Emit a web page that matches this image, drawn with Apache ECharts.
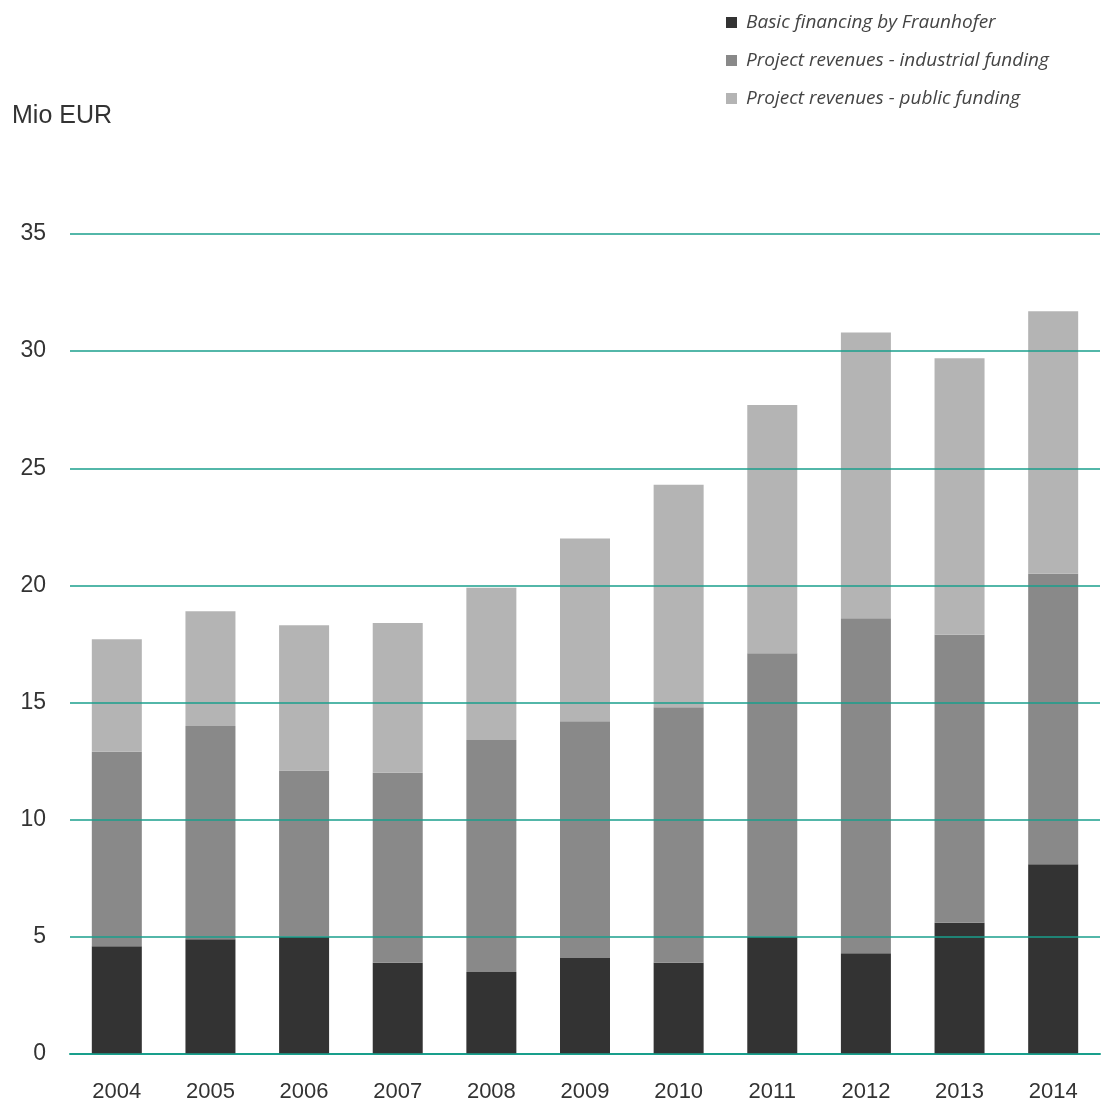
<!DOCTYPE html>
<html>
<head>
<meta charset="utf-8">
<script src="https://cdn.jsdelivr.net/npm/echarts@6/dist/echarts.min.js"></script>
<style>
  html, body { margin: 0; padding: 0; background: #fff; }
  #chart { width: 1106px; height: 1104px; }
</style>
</head>
<body>
<div id="chart"></div>
<script>
// Fraunhofer operating budget by source, Mio EUR
const years = ['2004', '2005', '2006', '2007', '2008', '2009', '2010', '2011', '2012', '2013', '2014'];
const basicFinancing = [4.6, 4.9, 5.0, 3.9, 3.5, 4.1, 3.9, 5.0, 4.3, 5.6, 8.1];
const industrialFunding = [8.3, 9.1, 7.1, 8.1, 9.9, 10.1, 10.9, 12.1, 14.3, 12.3, 12.4];
const publicFunding = [4.8, 4.9, 6.2, 6.4, 6.5, 7.8, 9.5, 10.6, 12.2, 11.8, 11.2];
const seriesNames = ['Basic financing by Fraunhofer', 'Project revenues - industrial funding', 'Project revenues - public funding'];
const yTicks = { min: 0, max: 35, interval: 5 };

const colors = ['#333333', '#898989', '#b4b4b4'];
const labelFont = 'Liberation Sans, Arial, sans-serif';

const chart = echarts.init(document.getElementById('chart'));
const stackData = [basicFinancing, industrialFunding, publicFunding];

chart.setOption({
  animation: false,
  color: colors,
  title: {
    text: 'Mio EUR',
    left: 7,
    top: 99,
    textStyle: { fontFamily: labelFont, fontSize: 25, fontWeight: 'normal', color: '#333' }
  },
  legend: {
    orient: 'vertical',
    left: 721,
    top: 8,
    itemWidth: 11,
    itemHeight: 11,
    itemGap: 19,
    icon: 'rect',
    textStyle: { fontFamily: 'Open Sans, sans-serif', fontStyle: 'italic', fontSize: 19, color: '#444', padding: [0, 0, 0, 4] },
    data: seriesNames
  },
  grid: { left: 70, right: 6, top: 234, bottom: 50, containLabel: false },
  xAxis: {
    type: 'category',
    data: years,
    axisLine: { show: true, lineStyle: { color: '#1a9f8c', width: 2 } },
    axisTick: { show: false },
    axisLabel: { fontFamily: labelFont, fontSize: 22, color: '#333', margin: 27 }
  },
  yAxis: {
    type: 'value',
    z: 10,
    min: yTicks.min,
    max: yTicks.max,
    interval: yTicks.interval,
    axisLine: { show: false },
    axisTick: { show: false },
    splitLine: { show: true, lineStyle: { color: '#1a9f8c', width: 1.6 } },
    axisLabel: { fontFamily: labelFont, fontSize: 23, color: '#333', margin: 24, verticalAlign: 'middle', padding: [0, 0, 14, 0] }
  },
  series: stackData.map((values, i) => ({
    name: seriesNames[i],
    type: 'bar',
    stack: 'total',
    barWidth: 50,
    z: 2,
    data: values,
    itemStyle: { color: colors[i] }
  }))
});
</script>
</body>
</html>
